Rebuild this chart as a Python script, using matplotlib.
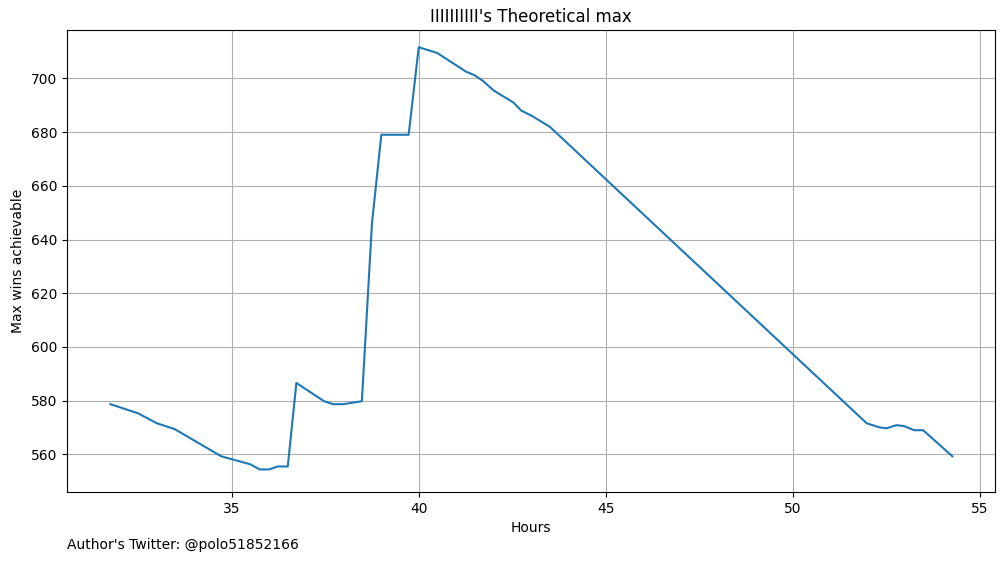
import matplotlib
matplotlib.use("Agg")
import matplotlib.pyplot as plt

hours = [31.76, 32.5, 33.0, 33.48, 34.72, 35.5, 35.75, 36.0, 36.23, 36.5, 36.73, 37.47, 37.71, 37.98,
         38.48, 38.75, 39.0, 39.73, 40.0, 40.5, 41.25, 41.5, 41.73, 42.0, 42.53, 42.74, 43.0, 43.5,
         51.97, 52.3, 52.5, 52.77, 52.98, 53.24, 53.48, 54.26]
wins = [578.7, 575.3, 571.6, 569.4, 559.3, 556.3, 554.4, 554.4, 555.5, 555.5, 586.6, 579.8, 578.7, 578.7,
        579.8, 646.0, 679.0, 679.0, 711.6, 709.4, 702.6, 701.1, 698.9, 695.5, 691.0, 688.0, 686.2, 682.0,
        571.6, 570.1, 569.7, 570.9, 570.5, 569.0, 569.0, 559.3]

fig = plt.figure(figsize=(10.05, 5.62), dpi=100)
ax = fig.add_axes([67/1005, 1-492/562, (995-67)/1005, (492-30)/562])
ax.plot(hours, wins, color="#1f77b4")
ax.grid(True)
ax.set_ylim(546, 718)
ax.set_xlim(30.6, 55.4)
ax.set_title("IIIIIIIIII's Theoretical max")
ax.set_xlabel("Hours")
ax.set_ylabel("Max wins achievable")
fig.text(67/1005, 1-545/562, "Author's Twitter: @polo51852166", va="center", ha="left")
fig.savefig("out.png", dpi=100)
